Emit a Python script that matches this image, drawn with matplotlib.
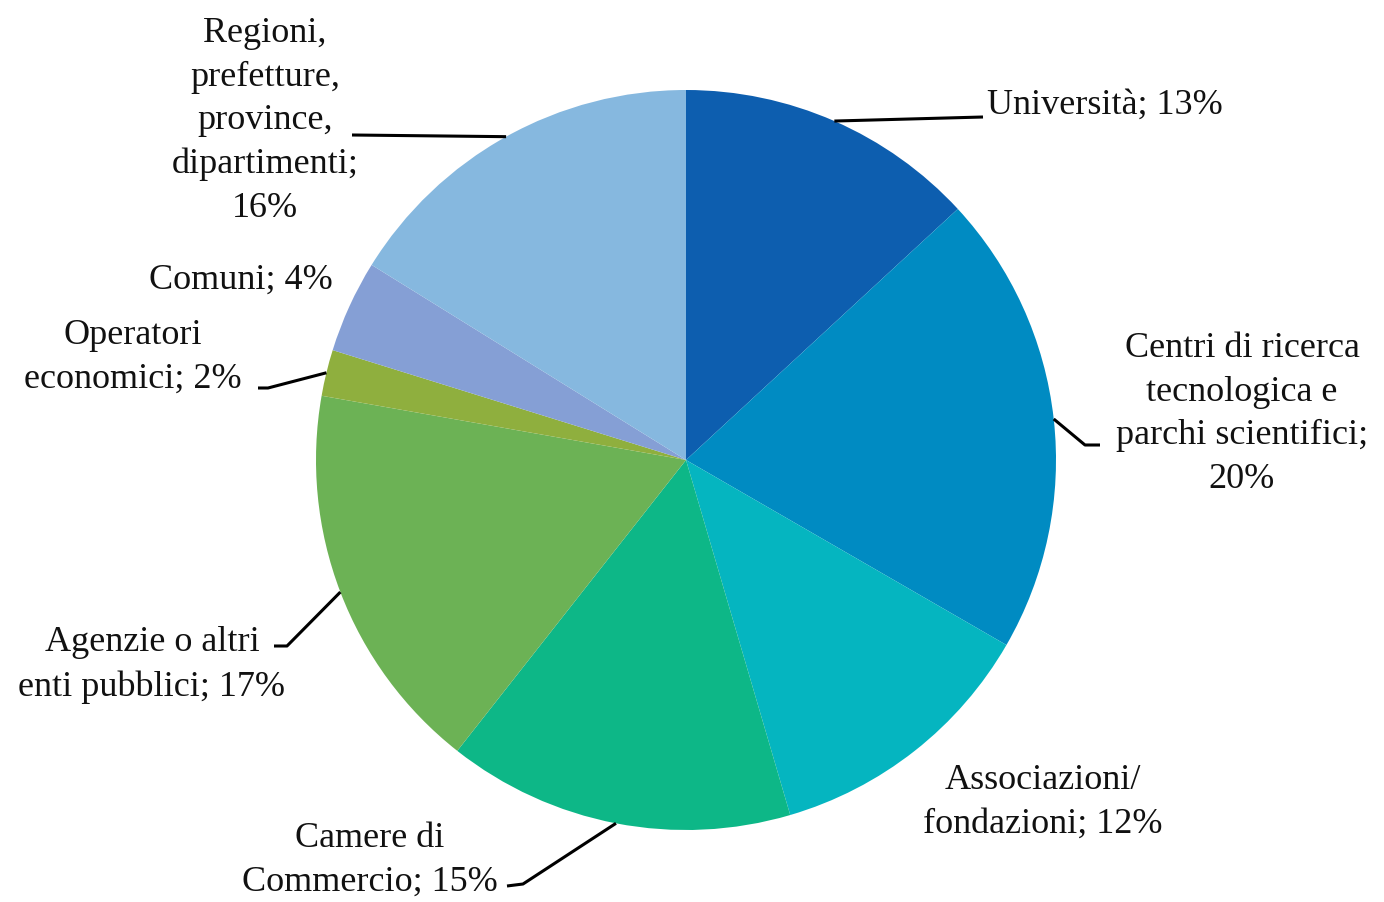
import numpy as np
import matplotlib
matplotlib.use("Agg")
import matplotlib.pyplot as plt

# data (clockwise from 12 o'clock)
categories = ["Università", "Centri di ricerca\ntecnologica e\nparchi scientifici;",
              "Associazioni/\nfondazioni;", "Camere di\nCommercio;",
              "Agenzie o altri\nenti pubblici;", "Operatori\neconomici;", "Comuni;",
              "Regioni,\nprefetture,\nprovince,\ndipartimenti;"]
values = [13, 20, 12, 15, 17, 2, 4, 16]
colors = ["#0D5EAF", "#008BC2", "#05B5C0", "#0DB787",
          "#6CB255", "#8FAF3E", "#859FD5", "#86B8DF"]

# label layout in pixel coords (x, y from top), and leader elbows/ends
label_pos = [(1105, 105), (1242, 414), (1043, 802), (370, 860),
             (152, 665), (133, 357), (241, 280), (265, 121)]
leaders = {0: [(983, 117)],
           1: [(1085, 445), (1100, 445)],
           3: [(523, 884), (507, 886)],
           4: [(287, 646), (274, 646)],
           5: [(268, 388), (258, 388)],
           7: [(352, 135)]}

W, H = 1384, 902
cx, cy, r = 686, 460, 370

fig = plt.figure(figsize=(W / 100, H / 100), dpi=100)
ax = fig.add_axes([0, 0, 1, 1])

wedges, _ = ax.pie(values, colors=colors, startangle=90, counterclock=False,
                   center=(cx, H - cy), radius=r, frame=True)
ax.set_xlim(0, W)
ax.set_ylim(0, H)
ax.axis("off")

font = dict(family="Liberation Serif", fontsize=26, color="#111111")

total = sum(values)
for i, w in enumerate(wedges):
    x, y = label_pos[i]
    name = categories[i]
    sep = " " if name.endswith(";") and "\n" not in name.split(";")[-1] and i not in (1, 7) else "\n"
    if i == 0:
        txt = name + "; %d%%" % values[i]
    else:
        txt = name + sep + "%d%%" % values[i]
    ax.text(x, H - y, txt, ha="center", va="center",
            linespacing=1.42, **font)
    if i in leaders:
        mid = np.deg2rad((w.theta1 + w.theta2) / 2)
        px = cx + r * np.cos(mid)
        py = (H - cy) + r * np.sin(mid)
        xs = [px] + [p[0] for p in leaders[i]]
        ys = [py] + [H - p[1] for p in leaders[i]]
        ax.plot(xs, ys, color="black", lw=2.2, solid_capstyle="butt")

fig.savefig("out.png", dpi=100)
